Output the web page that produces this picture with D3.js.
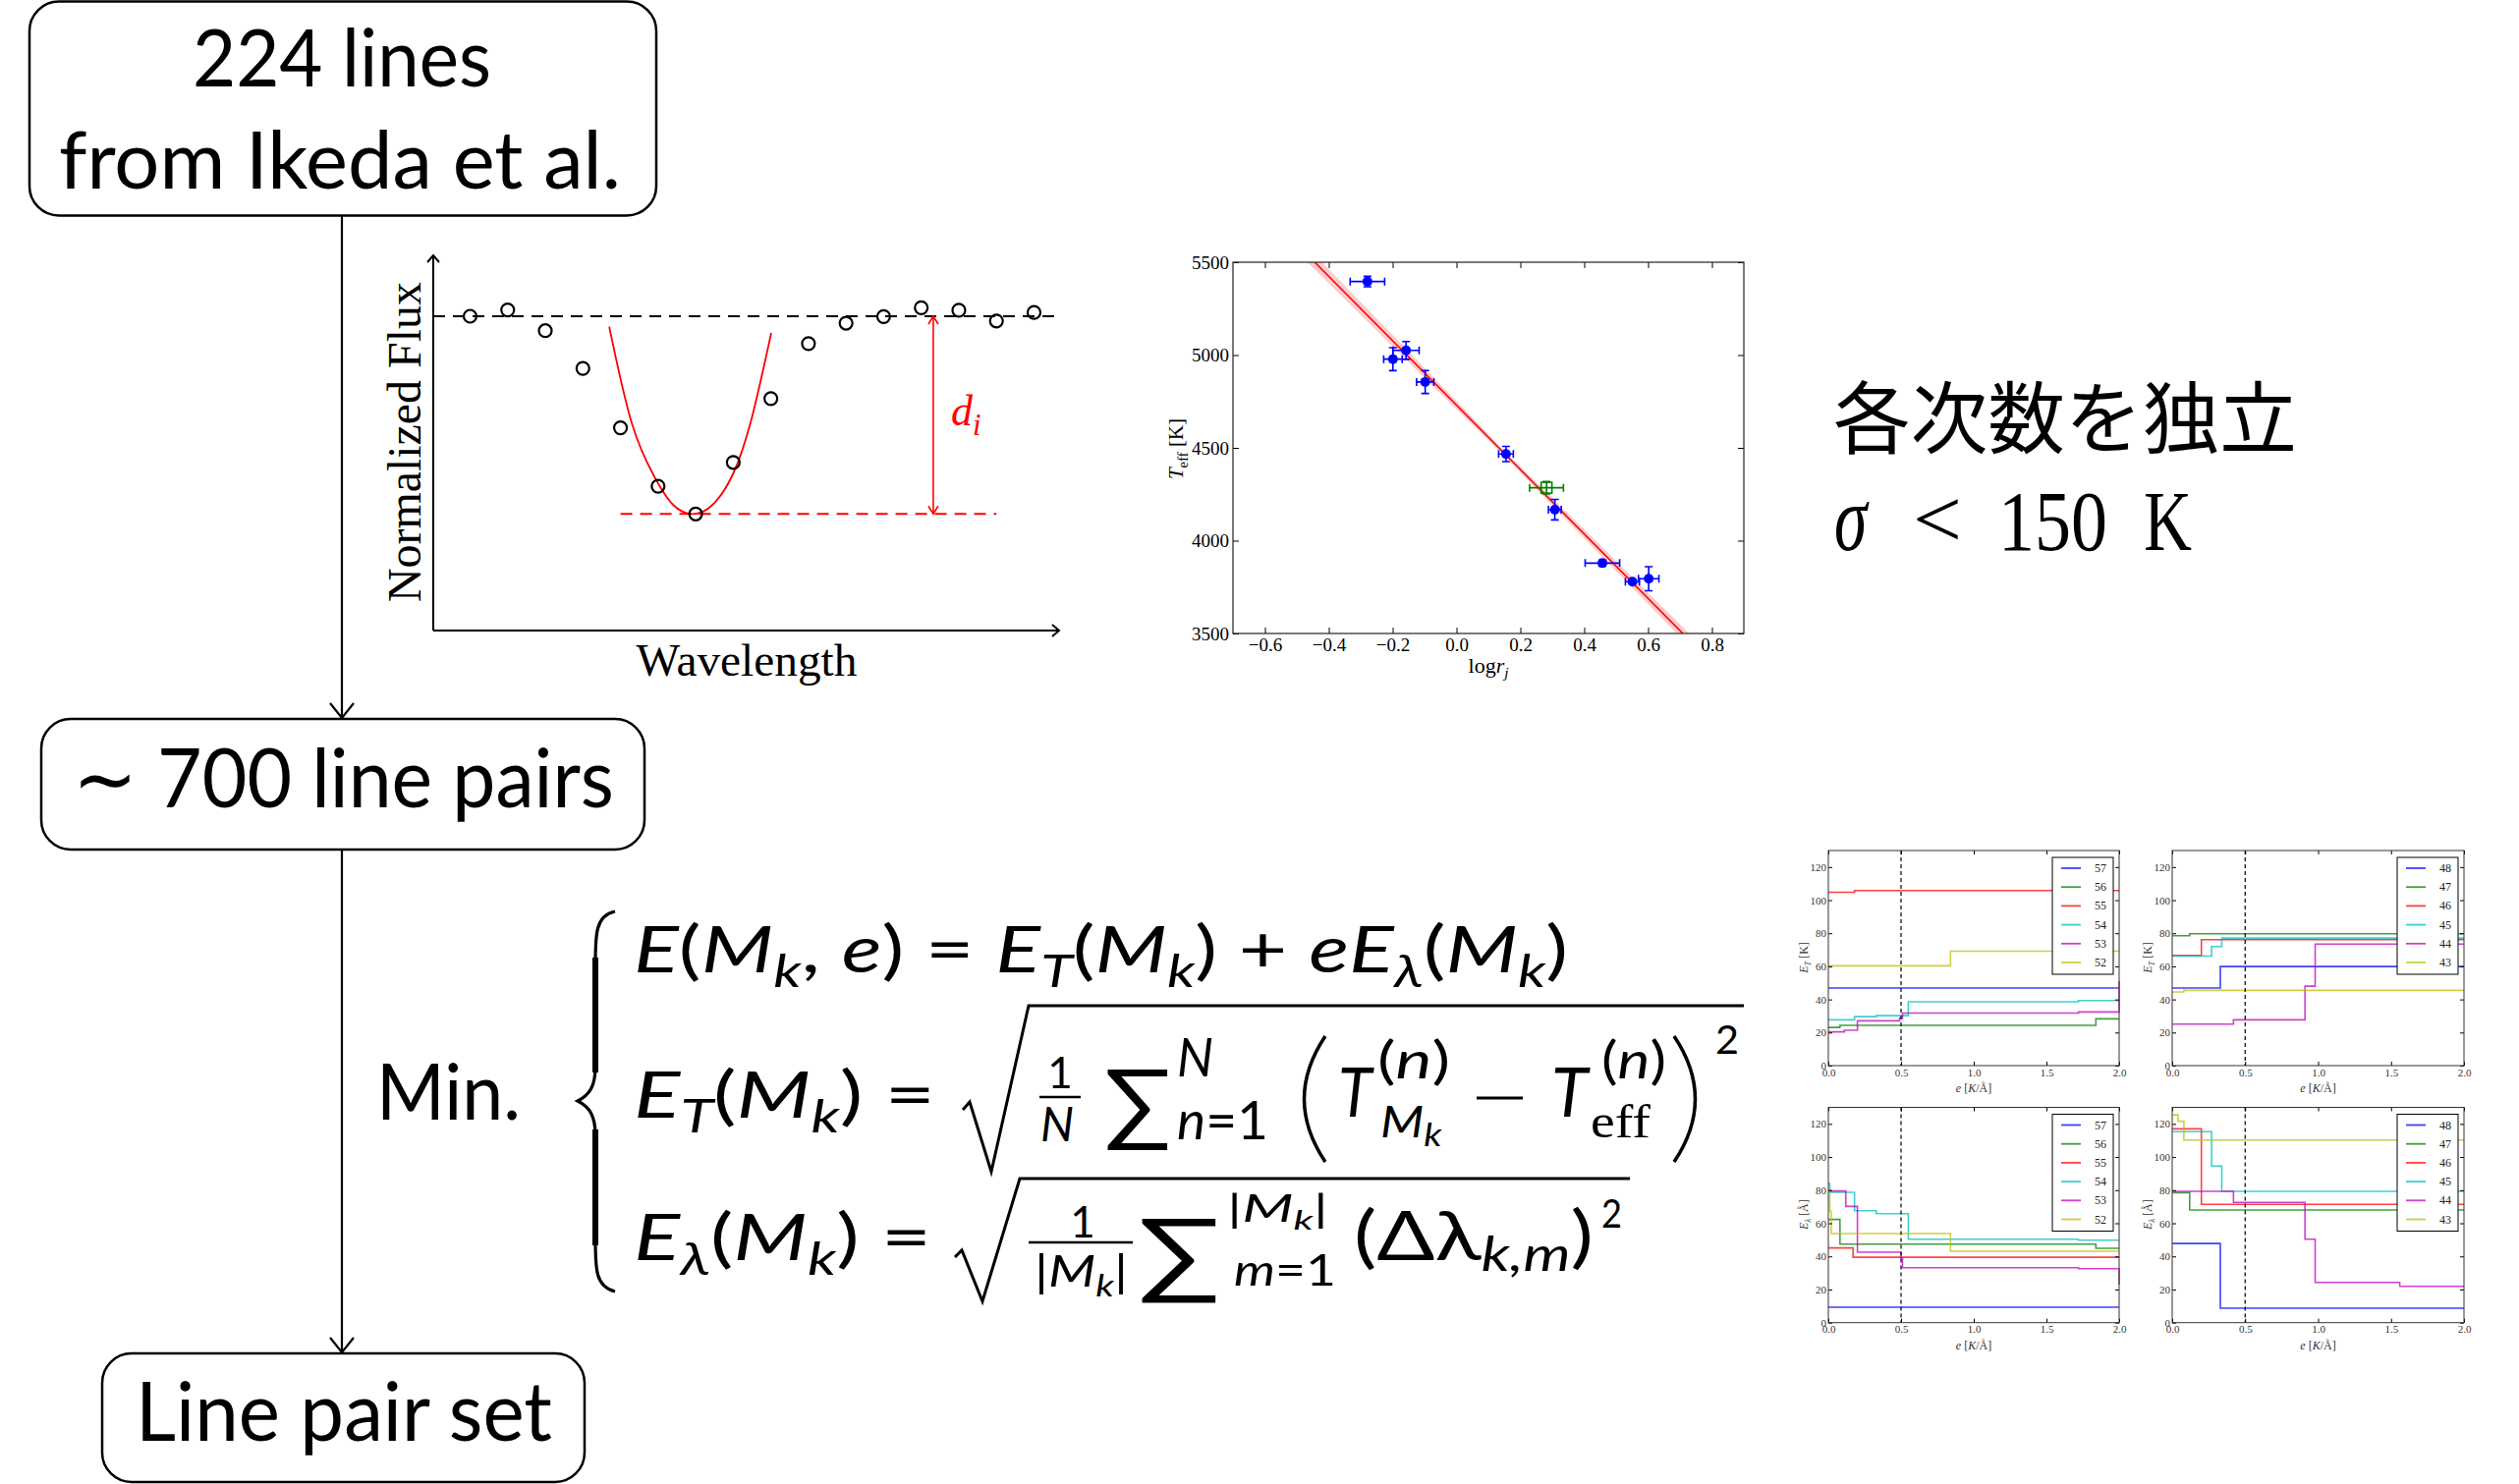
<!DOCTYPE html>
<html>
<head>
<meta charset="utf-8">
<script src="https://cdn.jsdelivr.net/npm/d3@7"></script>
<style>
body { margin: 0; background: #fff; }
svg { display: block; }
text { white-space: pre; }
</style>
</head>
<body>
<div id="chart"></div>
<script>
// Canvas size of the slide
const W = 2564, H = 1511;
const SANS = "Lato, 'DejaVu Sans', sans-serif";
const SERIF = "'Liberation Serif', 'DejaVu Serif', serif";
const CJK = "'Noto Sans CJK JP', sans-serif";

// ---- line profile sketch (normalized flux vs wavelength) ----
const fluxIndex = [0, 1, 2, 3, 4, 5, 6, 7, 8, 9, 10, 11, 12, 13, 14, 15];
const fluxValue = [1.000, 1.020, 0.954, 0.834, 0.645, 0.459, 0.371, 0.535, 0.738, 0.913, 0.978, 0.999, 1.027, 1.019, 0.985, 1.012];
const fitIndex = [3.70, 4.30, 4.90, 5.40, 5.92, 6.45, 7.00, 7.50, 8.01];
const fitValue = [0.967, 0.660, 0.490, 0.400, 0.371, 0.400, 0.500, 0.680, 0.947];
const continuumLevel = 1.0;
const depthLevel = 0.371;
const depthLineFrom = 4.0, depthLineTo = 14.0, depthArrowAt = 12.32;

// ---- Teff vs log r calibration ----
const logR = [-0.279, -0.199, -0.158, -0.098, 0.155, 0.308, 0.457, 0.551, 0.602];
const teff = [5396, 4978, 5025, 4855, 4467, 4167, 3879, 3779, 3795];
const logRErr = [0.054, 0.029, 0.041, 0.027, 0.023, 0.020, 0.054, 0.022, 0.032];
const teffErr = [28, 62, 48, 62, 41, 55, 16, 12, 65];
const refLogR = [0.282], refTeff = [4285], refLogRErr = [0.053], refTeffErr = [34];
const fitLogR = [-0.444, 0.709];
const fitTeff = [5500, 3500];
const bandLogR = [-0.50, 0.00, 0.15, 0.30, 0.75];
const bandCenter = [5598, 4730, 4470, 4210, 3429];
const bandHalf = [42, 22, 14, 20, 35];
const calXTicks = [-0.6, -0.4, -0.2, 0.0, 0.2, 0.4, 0.6, 0.8];
const calYTicks = [3500, 4000, 4500, 5000, 5500];

// ---- E_T / E_lambda step curves against e ----
const ordersA = [57, 56, 55, 54, 53, 52];
const ordersB = [48, 47, 46, 45, 44, 43];
const orderColors = ["#0000ff", "#008000", "#ff0000", "#00bfbf", "#bf00bf", "#bfbf00"];
const stepXTicks = [0, 0.5, 1.0, 1.5, 2.0];
const stepYTicks = [0, 20, 40, 60, 80, 100, 120];
const errTA = [
  [[0, 46.9], [2, 46.9]],
  [[0, 23.1], [0.08, 24.3], [1.84, 28.3], [2, 28.3]],
  [[0, 104.8], [0.18, 105.8], [2, 105.8]],
  [[0, 27.7], [0.18, 29.6], [0.33, 30.2], [0.55, 38.6], [1.72, 39.3], [2, 39.3]],
  [[0, 20.4], [0.11, 21.4], [0.20, 27.1], [0.49, 28.7], [0.51, 31.8], [1.72, 32.4], [2, 32.4], [2, 51]],
  [[0, 60.3], [0.84, 69.2], [2, 69.2]]
];
const errTB = [
  [[0, 46.9], [0.33, 59.9], [2, 59.9]],
  [[0, 78.5], [0.12, 79.7], [2, 79.7]],
  [[0, 66.6], [0.20, 76.1], [2, 76.1]],
  [[0, 66.2], [0.27, 72.0], [0.34, 77.1], [2, 77.1]],
  [[0, 25.1], [0.42, 27.7], [0.91, 48.0], [0.98, 73.5], [2, 73.5]],
  [[0, 44.5], [0.08, 45.5], [2, 45.5]]
];
const errLA = [
  [[0, 9.3], [2, 9.3]],
  [[0, 62.3], [0.08, 47.4], [1.84, 44.9], [2, 44.9]],
  [[0, 45.1], [0.17, 39.5], [2, 39.5]],
  [[0, 84.0], [0.01, 78.7], [0.18, 67.6], [0.33, 65.8], [0.55, 50.4], [1.72, 49.8], [2, 49.8]],
  [[0, 79.5], [0.12, 70.2], [0.20, 42.5], [0.50, 39.0], [0.51, 33.2], [1.72, 32.6], [2, 32.6], [2, 23]],
  [[0, 79.1], [0.01, 67.2], [0.02, 53.8], [0.84, 43.1], [2, 43.1]]
];
const errLB = [
  [[0, 47.8], [0.33, 8.7], [2, 8.7]],
  [[0, 78.5], [0.12, 68.0], [2, 68.0]],
  [[0, 117.0], [0.20, 71.4], [2, 71.4]],
  [[0, 115.3], [0.27, 94.5], [0.34, 79.3], [2, 79.3]],
  [[0, 79.3], [0.42, 72.6], [0.91, 50.4], [0.98, 24.3], [1.56, 21.9], [2, 21.9]],
  [[0, 125.5], [0.04, 121.6], [0.08, 110.3], [2, 110.3]]
];

const svg = d3.select("#chart").append("svg")
  .attr("width", W).attr("height", H)
  .attr("viewBox", `0 0 ${W} ${H}`);
svg.append("rect").attr("width", W).attr("height", H).attr("fill", "#fff");

// Places a text so that its width matches the picture (scaled in x only)
function place(t, x, y, o) {
  const b = t.node().getBBox();
  const s = o.width ? o.width / b.width : 1;
  let dx = -b.x * s;
  if (o.anchor === "middle") dx -= b.width * s / 2;
  if (o.anchor === "end") dx -= b.width * s;
  const rot = o.rotate ? ` rotate(${o.rotate})` : "";
  t.attr("transform", `translate(${x},${y})${rot} translate(${dx},0) scale(${s},1)`);
  return t;
}
function put(parent, str, x, y, size, o = {}) {
  const t = parent.append("text")
    .attr("font-family", o.family || SANS)
    .attr("font-size", size)
    .attr("font-style", o.italic ? "italic" : "normal")
    .attr("fill", o.fill || "#000")
    .text(str);
  return place(t, x, y, o);
}
// parts: [text, "b" | "sub" | "sup", italic, family]
function rich(parent, parts, x, y, size, o = {}) {
  const t = parent.append("text")
    .attr("font-family", o.family || SANS)
    .attr("font-size", size)
    .attr("fill", o.fill || "#000");
  let cur = 0;
  parts.forEach(([s, pos, it, fam]) => {
    const shift = pos === "sub" ? size * (o.subShift || 0.22) : pos === "sup" ? -size * 0.42 : 0;
    t.append("tspan")
      .attr("dy", shift - cur)
      .attr("font-size", pos === "b" ? size : size * (o.subScale || 0.7))
      .attr("font-style", it ? "italic" : "normal")
      .attr("font-family", fam || o.family || SANS)
      .text(s);
    cur = shift;
  });
  return place(t, x, y, o);
}
function head(g, x, y, dir, len, half) {
  const p = dir === "down" ? `M${x - half},${y - len}L${x},${y}L${x + half},${y - len}`
    : dir === "up" ? `M${x - half},${y + len}L${x},${y}L${x + half},${y + len}`
    : `M${x - len},${y - half}L${x},${y}L${x - len},${y + half}`;
  g.append("path").attr("d", p).attr("fill", "none");
}

// ================= flow chart boxes =================
const flow = svg.append("g").attr("stroke", "#000").attr("fill", "none");
flow.append("rect").attr("x", 30).attr("y", 1.5).attr("width", 638).attr("height", 218).attr("rx", 30).attr("stroke-width", 2.5);
flow.append("rect").attr("x", 42).attr("y", 732).attr("width", 614).attr("height", 133).attr("rx", 30).attr("stroke-width", 2.5);
flow.append("rect").attr("x", 104).attr("y", 1378).attr("width", 491).attr("height", 131).attr("rx", 30).attr("stroke-width", 2.5);
const arr = svg.append("g").attr("stroke", "#000").attr("stroke-width", 2.2).attr("fill", "none");
arr.append("line").attr("x1", 348).attr("x2", 348).attr("y1", 220).attr("y2", 731);
head(arr, 348, 731, "down", 15, 12);
arr.append("line").attr("x1", 348).attr("x2", 348).attr("y1", 865).attr("y2", 1377);
head(arr, 348, 1377, "down", 15, 12);

put(svg, "224 lines", 348, 88, 82, { anchor: "middle", width: 304 });
put(svg, "from Ikeda et al.", 346, 192, 82, { anchor: "middle", width: 572 });
put(svg, "\u223C 700 line pairs", 74, 822, 84, { width: 551 });
put(svg, "Line pair set", 138, 1467, 84, { width: 424 });

// ================= flux sketch =================
const fx = d3.scaleLinear().domain([0, 15]).range([478.5, 1052.5]);
const fy = d3.scaleLinear().domain([0, 1]).range([642, 322]);
const flux = svg.append("g");
const fAxis = flux.append("g").attr("stroke", "#000").attr("stroke-width", 2).attr("fill", "none");
fAxis.append("line").attr("x1", 441).attr("x2", 441).attr("y1", 642).attr("y2", 260);
fAxis.append("line").attr("x1", 441).attr("x2", 1078).attr("y1", 642).attr("y2", 642);
head(fAxis, 441, 260, "up", 7, 6);
head(fAxis, 1078, 642, "right", 7, 6);

flux.append("line")
  .attr("x1", 441).attr("x2", 1073)
  .attr("y1", fy(continuumLevel)).attr("y2", fy(continuumLevel))
  .attr("stroke", "#000").attr("stroke-width", 2).attr("stroke-dasharray", "12,8");

flux.append("path")
  .datum(fitIndex.map((d, i) => [d, fitValue[i]]))
  .attr("d", d3.line().x(d => fx(d[0])).y(d => fy(d[1])).curve(d3.curveNatural))
  .attr("fill", "none").attr("stroke", "#ff0000").attr("stroke-width", 1.8);

flux.append("line")
  .attr("x1", fx(depthLineFrom)).attr("x2", fx(depthLineTo))
  .attr("y1", fy(depthLevel)).attr("y2", fy(depthLevel))
  .attr("stroke", "#ff0000").attr("stroke-width", 2).attr("stroke-dasharray", "12,8");

const dArr = flux.append("g").attr("stroke", "#ff0000").attr("stroke-width", 1.6).attr("fill", "none");
dArr.append("line").attr("x1", fx(depthArrowAt)).attr("x2", fx(depthArrowAt))
  .attr("y1", fy(continuumLevel)).attr("y2", fy(depthLevel));
head(dArr, fx(depthArrowAt), fy(continuumLevel), "up", 8, 5);
head(dArr, fx(depthArrowAt), fy(depthLevel), "down", 8, 5);

flux.selectAll("circle.pt")
  .data(fluxIndex)
  .enter().append("circle")
  .attr("class", "pt")
  .attr("cx", d => fx(d))
  .attr("cy", (d, i) => fy(fluxValue[i]))
  .attr("r", 6.5)
  .attr("fill", "none").attr("stroke", "#000").attr("stroke-width", 2.2);

rich(flux, [["d", "b", 1], ["i", "sub", 1]], 968, 433, 44, { family: SERIF, fill: "#ff0000" });
put(flux, "Wavelength", 760, 688, 46, { family: SERIF, anchor: "middle", width: 225 });
put(flux, "Normalized Flux", 428, 450, 48, { family: SERIF, anchor: "middle", width: 326, rotate: -90 });

// ================= Teff calibration plot =================
const cx = d3.scaleLinear().domain([-0.7, 0.9]).range([1255, 1775]);
const cy = d3.scaleLinear().domain([3500, 5500]).range([645, 267]);
const cal = svg.append("g");
svg.append("clipPath").attr("id", "calClip").append("rect")
  .attr("x", 1255).attr("y", 267).attr("width", 520).attr("height", 378);

const band = bandLogR.map((d, i) => [d, bandCenter[i] - bandHalf[i], bandCenter[i] + bandHalf[i]]);
cal.append("path").datum(band)
  .attr("clip-path", "url(#calClip)")
  .attr("d", d3.area().x(d => cx(d[0])).y0(d => cy(d[1])).y1(d => cy(d[2])).curve(d3.curveMonotoneX))
  .attr("fill", "#ff8c8c").attr("fill-opacity", 0.45);
cal.append("path").datum(fitLogR.map((d, i) => [d, fitTeff[i]]))
  .attr("clip-path", "url(#calClip)")
  .attr("d", d3.line().x(d => cx(d[0])).y(d => cy(d[1])))
  .attr("stroke", "#ff0000").attr("stroke-width", 1.6).attr("fill", "none");

function errorBars(g, xs, ys, xe, ye, color) {
  xs.forEach((v, i) => {
    const px = cx(v), py = cy(ys[i]);
    const x0 = cx(v - xe[i]), x1 = cx(v + xe[i]);
    const y0 = cy(ys[i] - ye[i]), y1 = cy(ys[i] + ye[i]);
    const p = `M${x0},${py}H${x1}M${x0},${py - 4}V${py + 4}M${x1},${py - 4}V${py + 4}` +
      `M${px},${y0}V${y1}M${px - 4},${y0}H${px + 4}M${px - 4},${y1}H${px + 4}`;
    g.append("path").attr("d", p).attr("stroke", color).attr("stroke-width", 1.6).attr("fill", "none");
  });
}
errorBars(cal, logR, teff, logRErr, teffErr, "#0000ff");
errorBars(cal, refLogR, refTeff, refLogRErr, refTeffErr, "#008000");
cal.selectAll("circle.star").data(logR).enter().append("circle")
  .attr("class", "star")
  .attr("cx", d => cx(d)).attr("cy", (d, i) => cy(teff[i]))
  .attr("r", 5).attr("fill", "#0000ff");
cal.selectAll("rect.ref").data(refLogR).enter().append("rect")
  .attr("class", "ref")
  .attr("x", d => cx(d) - 5.5).attr("y", (d, i) => cy(refTeff[i]) - 5.5)
  .attr("width", 11).attr("height", 11)
  .attr("fill", "none").attr("stroke", "#008000").attr("stroke-width", 1.6);

function styleAxis(g, size, family, color) {
  g.attr("font-family", family).attr("font-size", size);
  g.select(".domain").remove();
  g.selectAll(".tick line").attr("stroke", "#000");
  g.selectAll(".tick text").attr("fill", color);
}
const calBottom = cal.append("g").attr("transform", "translate(0,645)")
  .call(d3.axisBottom(cx).tickValues(calXTicks).tickSize(-6).tickPadding(5).tickFormat(d3.format(".1f")));
styleAxis(calBottom, 19, SERIF, "#000");
const calTop = cal.append("g").attr("transform", "translate(0,267)")
  .call(d3.axisTop(cx).tickValues(calXTicks).tickSize(-6).tickFormat(""));
styleAxis(calTop, 19, SERIF, "#000");
const calLeft = cal.append("g").attr("transform", "translate(1255,0)")
  .call(d3.axisLeft(cy).tickValues(calYTicks).tickSize(-6).tickPadding(4).tickFormat(d3.format("d")));
styleAxis(calLeft, 19, SERIF, "#000");
const calRight = cal.append("g").attr("transform", "translate(1775,0)")
  .call(d3.axisRight(cy).tickValues(calYTicks).tickSize(-6).tickFormat(""));
styleAxis(calRight, 19, SERIF, "#000");
cal.append("rect").attr("x", 1255).attr("y", 267).attr("width", 520).attr("height", 378)
  .attr("fill", "none").attr("stroke", "#222").attr("stroke-width", 1.2);

rich(cal, [["log", "b", 0], ["r", "b", 1], ["j", "sub", 1]], 1515, 685, 22, { family: SERIF, anchor: "middle" });
rich(cal, [["T", "b", 1], ["eff", "sub", 0], [" [K]", "b", 0]], 1204, 457, 21, { family: SERIF, anchor: "middle", rotate: -90 });

// ================= right-hand notes =================
put(svg, "各次数を独立", 1866, 455, 80, { family: CJK, width: 472 });
const sig = svg.append("g");
put(sig, "\u03C3", 1867, 560, 96, { family: SERIF, italic: true, width: 36 });
put(sig, "<", 1947, 557, 84, { family: SERIF, width: 50 });
put(sig, "150", 2034, 560, 87, { family: SERIF, width: 111 });
put(sig, "K", 2182, 560, 86, { family: SERIF, width: 49 });

// ================= minimisation formula =================
const fm = svg.append("g");
put(fm, "Min.", 383, 1140, 80, { width: 147 });
const brace = fm.append("g").attr("fill", "none").attr("stroke", "#000");
brace.append("path")
  .attr("d", "M626,928 C606,932 606,952 606,982 L606,1086 C606,1106 600,1115 588,1121 C600,1127 606,1136 606,1156 L606,1262 C606,1292 606,1310 626,1315")
  .attr("stroke-width", 3.2);
brace.append("path").attr("d", "M606,975 V1092 M606,1150 V1268").attr("stroke-width", 6);

rich(fm, [["E", "b", 1], ["(", "b", 0], ["M", "b", 1], ["k", "sub", 1], [", ", "b", 0], ["e", "b", 1],
  [") = ", "b", 0], ["E", "b", 1], ["T", "sub", 1], ["(", "b", 0], ["M", "b", 1], ["k", "sub", 1],
  [") + ", "b", 0], ["e", "b", 1], ["E", "b", 1], ["\u03BB", "sub", 1], ["(", "b", 0], ["M", "b", 1],
  ["k", "sub", 1], [")", "b", 0]], 645, 990, 66, { width: 950 });

// second line
rich(fm, [["E", "b", 1], ["T", "sub", 1], ["(", "b", 0], ["M", "b", 1], ["k", "sub", 1], [") =", "b", 0]],
  645, 1138, 66, { width: 307 });
const rad = fm.append("g").attr("fill", "none").attr("stroke", "#000");
rad.append("path").attr("d", "M980,1130 L987,1122 L1009,1193 L1047,1024 H1775").attr("stroke-width", 3);
rad.append("line").attr("x1", 1058).attr("x2", 1100).attr("y1", 1117).attr("y2", 1117).attr("stroke-width", 2.6);
rad.append("path").attr("d", "M1349,1055 Q1306,1119 1349,1183").attr("stroke-width", 3.5);
rad.append("path").attr("d", "M1704,1055 Q1747,1119 1704,1183").attr("stroke-width", 3.5);
rad.append("line").attr("x1", 1503).attr("x2", 1550).attr("y1", 1118).attr("y2", 1118).attr("stroke-width", 3);
put(fm, "1", 1079, 1108, 44, { anchor: "middle" });
put(fm, "N", 1076, 1162, 48, { anchor: "middle", italic: true });
put(fm, "\u2211", 1124, 1155, 92, { width: 69 });
put(fm, "N", 1198, 1096, 54, { italic: true, width: 37 });
rich(fm, [["n", "b", 1], ["=1", "b", 0]], 1198, 1160, 54, { width: 93 });
put(fm, "T", 1362, 1137, 70, { italic: true, width: 37 });
rich(fm, [["(", "b", 0], ["n", "b", 1], [")", "b", 0]], 1402, 1098, 52, { width: 74 });
rich(fm, [["M", "b", 1], ["k", "sub", 1]], 1405, 1158, 44, { width: 63, subShift: 0.2, subScale: 0.75 });
put(fm, "T", 1579, 1137, 70, { italic: true, width: 40 });
rich(fm, [["(", "b", 0], ["n", "b", 1], [")", "b", 0]], 1630, 1098, 52, { width: 66 });
put(fm, "eff", 1619, 1158, 48, { family: SERIF, width: 61 });
put(fm, "2", 1746, 1073, 40, { width: 24 });

// third line
rich(fm, [["E", "b", 1], ["\u03BB", "sub", 1], ["(", "b", 0], ["M", "b", 1], ["k", "sub", 1], [") =", "b", 0]],
  645, 1283, 66, { width: 303 });
rad.append("path").attr("d", "M972,1280 L979,1273 L1000,1325 L1038,1200 H1659").attr("stroke-width", 3);
rad.append("line").attr("x1", 1047).attr("x2", 1153).attr("y1", 1265).attr("y2", 1265).attr("stroke-width", 2.6);
put(fm, "1", 1102, 1260, 44, { anchor: "middle" });
rich(fm, [["|", "b", 0], ["M", "b", 1], ["k", "sub", 1], ["|", "b", 0]], 1053, 1310, 44, { width: 95 });
put(fm, "\u2211", 1158, 1310, 96, { width: 85 });
rich(fm, [["|", "b", 0], ["M", "b", 1], ["k", "sub", 1], ["|", "b", 0]], 1249, 1244, 38, { width: 103 });
rich(fm, [["m", "b", 1], ["=1", "b", 0]], 1256, 1309, 44, { width: 104 });
rich(fm, [["(\u0394\u03BB", "b", 0], ["k,m", "sub", 1], [")", "b", 0]], 1378, 1283, 70, { width: 244, subShift: 0.15 });
put(fm, "2", 1630, 1250, 40, { width: 21 });

// ================= step-curve panels =================
const panelBoxes = [[1861, 2157, 866, 1085], [2211, 2508, 866, 1085], [1861, 2157, 1127.5, 1346.7], [2211, 2508, 1127.5, 1346.7]];
const panelCurves = [errTA, errTB, errLA, errLB];
const panelOrders = [ordersA, ordersB, ordersA, ordersB];
const panelIsLambda = [false, false, true, true];

panelBoxes.forEach((b, p) => {
  const [x0, x1, y0, y1] = b;
  const sx = d3.scaleLinear().domain([0, 2]).range([x0, x1]);
  const sy = d3.scaleLinear().domain([0, 130]).range([y1, y0]);
  const g = svg.append("g");
  const clipId = "pc" + p;
  svg.append("clipPath").attr("id", clipId).append("rect")
    .attr("x", x0 - 1).attr("y", y0).attr("width", x1 - x0 + 2).attr("height", y1 - y0);

  const line = d3.line().x(d => sx(d[0])).y(d => sy(d[1])).curve(d3.curveStepAfter);
  g.selectAll("path.step").data(panelCurves[p]).enter().append("path")
    .attr("class", "step")
    .attr("clip-path", `url(#${clipId})`)
    .attr("d", line)
    .attr("fill", "none")
    .attr("stroke", (d, i) => orderColors[i])
    .attr("stroke-opacity", 0.75)
    .attr("stroke-width", 1.6);

  g.append("line").attr("x1", sx(0.5)).attr("x2", sx(0.5)).attr("y1", y0).attr("y2", y1)
    .attr("stroke", "#000").attr("stroke-width", 1.2).attr("stroke-dasharray", "4,3");

  const ab = g.append("g").attr("transform", `translate(0,${y1})`)
    .call(d3.axisBottom(sx).tickValues(stepXTicks).tickSize(-4).tickPadding(3).tickFormat(d3.format(".1f")));
  styleAxis(ab, 11, SERIF, "#333");
  const at = g.append("g").attr("transform", `translate(0,${y0})`)
    .call(d3.axisTop(sx).tickValues(stepXTicks).tickSize(-4).tickFormat(""));
  styleAxis(at, 11, SERIF, "#333");
  const al = g.append("g").attr("transform", `translate(${x0},0)`)
    .call(d3.axisLeft(sy).tickValues(stepYTicks).tickSize(-4).tickPadding(2).tickFormat(d3.format("d")));
  styleAxis(al, 11, SERIF, "#333");
  const ar = g.append("g").attr("transform", `translate(${x1},0)`)
    .call(d3.axisRight(sy).tickValues(stepYTicks).tickSize(-4).tickFormat(""));
  styleAxis(ar, 11, SERIF, "#333");
  g.append("rect").attr("x", x0).attr("y", y0).attr("width", x1 - x0).attr("height", y1 - y0)
    .attr("fill", "none").attr("stroke", "#333").attr("stroke-width", 1);

  // legend
  const lx = x1 - 68, ly = y0 + 7;
  g.append("rect").attr("x", lx).attr("y", ly).attr("width", 62).attr("height", 119)
    .attr("fill", "#fff").attr("stroke", "#000").attr("stroke-width", 1);
  panelOrders[p].forEach((o, i) => {
    const ry = ly + 11 + 19.2 * i;
    g.append("line").attr("x1", lx + 9).attr("x2", lx + 29).attr("y1", ry).attr("y2", ry)
      .attr("stroke", orderColors[i]).attr("stroke-opacity", 0.75).attr("stroke-width", 1.8);
    g.append("text").attr("x", lx + 43).attr("y", ry + 4).attr("font-family", SERIF).attr("font-size", 12)
      .attr("fill", "#222").text(o);
  });

  const sub = panelIsLambda[p] ? "\u03BB" : "T";
  const unit = panelIsLambda[p] ? " [\u00C5]" : " [K]";
  rich(g, [["E", "b", 1], [sub, "sub", 1], [unit, "b", 0]], x0 - 21, (y0 + y1) / 2, 12,
    { family: SERIF, anchor: "middle", rotate: -90, fill: "#333" });
  rich(g, [["e", "b", 1], [" [", "b", 0], ["K", "b", 1], ["/\u00C5]", "b", 0]], (x0 + x1) / 2, y1 + 27, 12,
    { family: SERIF, anchor: "middle", fill: "#333" });
});
</script>
</body>
</html>
